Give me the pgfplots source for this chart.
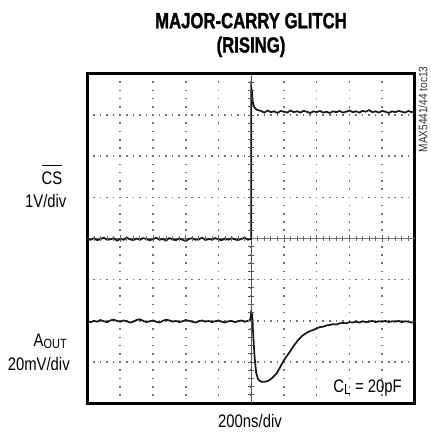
\documentclass[border=0pt]{standalone}
\usepackage{pgfplots}
\pgfplotsset{compat=1.18}
\usepackage{fontspec}
\setmainfont{Liberation Sans}[FakeStretch=0.82]
\newfontfamily\titlefont{Liberation Sans}[FakeStretch=0.76, FakeBold=1.3]
\newcommand{\ovl}[1]{\vbox{\hrule height 1pt\kern 4.4pt\hbox{#1}}}
\begin{document}
\begin{tikzpicture}
\path[use as bounding box] (0,0) rectangle (322.5pt,324pt);
\begin{axis}[
  at={(65.6pt,21.6pt)}, anchor=south west,
  scale only axis, width=245.6pt, height=247pt,
  xmin=0, xmax=10, ymin=0, ymax=8,
  xtick={0,1,...,10}, ytick={0,1,...,8},
  xticklabels={}, yticklabels={},
  major tick length=0pt,
  grid=major,
  major x grid style={black!55, line width=1.2pt, dash pattern=on 1.2pt off 4.975pt, dash phase=0.6pt},
  major y grid style={black!55, line width=1.2pt, dash pattern=on 1.2pt off 3.712pt, dash phase=0.6pt},
  axis line style={line width=2.3pt, black},
  clip=true,
]
% center cross lines
\addplot[black!55, line width=0.5pt] coordinates {(0,4) (10,4)};
\addplot[black!65, line width=0.6pt] coordinates {(5,0) (5,8)};
% minor ticks on center horizontal line
\addplot[only marks, mark=|, mark size=1.6pt, black!60, mark options={line width=0.6pt}] coordinates {
(0.2,4) (0.4,4) (0.6,4) (0.8,4) (1.2,4) (1.4,4) (1.6,4) (1.8,4)
(2.2,4) (2.4,4) (2.6,4) (2.8,4) (3.2,4) (3.4,4) (3.6,4) (3.8,4)
(4.2,4) (4.4,4) (4.6,4) (4.8,4) (5.2,4) (5.4,4) (5.6,4) (5.8,4)
(6.2,4) (6.4,4) (6.6,4) (6.8,4) (7.2,4) (7.4,4) (7.6,4) (7.8,4)
(8.2,4) (8.4,4) (8.6,4) (8.8,4) (9.2,4) (9.4,4) (9.6,4) (9.8,4)};
\addplot[only marks, mark=|, mark size=2.4pt, black!60, mark options={line width=0.6pt}] coordinates {
(1,4) (2,4) (3,4) (4,4) (6,4) (7,4) (8,4) (9,4)};
% minor ticks on center vertical line
\addplot[only marks, mark=-, mark size=2.2pt, black!65, mark options={line width=0.7pt}] coordinates {
(5,0.2) (5,0.4) (5,0.6) (5,0.8) (5,1.2) (5,1.4) (5,1.6) (5,1.8)
(5,2.2) (5,2.4) (5,2.6) (5,2.8) (5,3.2) (5,3.4) (5,3.6) (5,3.8)
(5,4.2) (5,4.4) (5,4.6) (5,4.8) (5,5.2) (5,5.4) (5,5.6) (5,5.8)
(5,6.2) (5,6.4) (5,6.6) (5,6.8) (5,7.2) (5,7.4) (5,7.6) (5,7.8)
(5,1) (5,2) (5,3) (5,5) (5,6) (5,7)};
% CS trace
\addplot[black!90, line width=1.3pt] coordinates {
(0.0,3.99) (0.1,3.97) (0.2,4.01) (0.3,3.96) (0.4,3.99) (0.5,4.02) (0.6,3.97) (0.7,3.98) (0.8,4.01) (0.9,3.95)
(1.0,3.99) (1.1,3.97) (1.2,4.02) (1.3,3.98) (1.4,3.96) (1.5,4.00) (1.6,3.97) (1.7,4.01) (1.8,3.99) (1.9,3.96)
(2.0,3.98) (2.1,4.02) (2.2,3.97) (2.3,3.99) (2.4,3.95) (2.5,4.01) (2.6,3.98) (2.7,3.96) (2.8,4.00) (2.9,3.97)
(3.0,3.94) (3.1,3.99) (3.2,4.01) (3.3,3.97) (3.4,3.98) (3.5,4.02) (3.6,3.96) (3.7,3.99) (3.8,3.97) (3.9,4.01)
(4.0,3.98) (4.1,3.96) (4.2,4.00) (4.3,3.97) (4.4,4.01) (4.5,3.98) (4.6,3.96) (4.7,3.99) (4.8,4.02) (4.9,3.97)
(4.98,3.99) (5.0,3.99) (5.0,7.66) (5.02,7.6) (5.04,7.35) (5.07,7.25) (5.1,7.18) (5.15,7.14) (5.2,7.12)
(5.3,7.10) (5.4,7.06) (5.5,7.11) (5.6,7.07) (5.7,7.09) (5.8,7.05) (5.9,7.10) (6.0,7.08) (6.1,7.06) (6.2,7.11)
(6.3,7.07) (6.4,7.09) (6.5,7.06) (6.6,7.10) (6.7,7.08) (6.8,7.05) (6.9,7.09) (7.0,7.07) (7.1,7.10) (7.2,7.06)
(7.3,7.08) (7.4,7.05) (7.5,7.09) (7.6,7.07) (7.7,7.10) (7.8,7.06) (7.9,7.08) (8.0,7.11) (8.1,7.07) (8.2,7.09)
(8.3,7.06) (8.4,7.10) (8.5,7.08) (8.6,7.12) (8.7,7.07) (8.8,7.09) (8.9,7.06) (9.0,7.10) (9.1,7.08) (9.2,7.05)
(9.3,7.09) (9.4,7.07) (9.5,7.10) (9.6,7.08) (9.7,7.06) (9.8,7.10) (9.9,7.07) (10.0,7.09)};
% AOUT trace
\addplot[black!90, line width=1.3pt] coordinates {
(0.0,1.99) (0.1,1.97) (0.2,2.00) (0.3,1.98) (0.4,2.02) (0.5,1.99) (0.6,1.97) (0.7,2.01) (0.8,2.03) (0.9,2.00)
(1.0,1.98) (1.1,2.01) (1.2,1.99) (1.3,1.96) (1.4,1.98) (1.5,2.02) (1.6,2.04) (1.7,2.00) (1.8,1.97) (1.9,1.99)
(2.0,2.01) (2.1,1.98) (2.2,1.96) (2.3,2.00) (2.4,2.03) (2.5,2.01) (2.6,1.98) (2.7,2.00) (2.8,1.97) (2.9,1.99)
(3.0,2.02) (3.1,2.00) (3.2,1.98) (3.3,1.96) (3.4,1.99) (3.5,2.01) (3.6,1.98) (3.7,2.00) (3.8,1.97) (3.9,1.99)
(4.0,2.01) (4.1,1.98) (4.2,1.96) (4.3,1.99) (4.4,2.00) (4.5,1.97) (4.6,1.99) (4.7,2.01) (4.8,1.98) (4.9,2.00)
(4.97,2.02) (5.0,2.2) (5.03,2.15) (5.06,1.7) (5.1,1.15) (5.15,0.75) (5.2,0.6) (5.26,0.54) (5.32,0.52) (5.4,0.52)
(5.48,0.53) (5.55,0.56) (5.62,0.6) (5.7,0.66) (5.78,0.73) (5.86,0.84) (5.94,0.96) (6.02,1.07) (6.1,1.16) (6.18,1.25)
(6.26,1.35) (6.34,1.44) (6.42,1.52) (6.5,1.59) (6.58,1.65) (6.66,1.69) (6.74,1.73) (6.82,1.76) (6.9,1.78) (7.0,1.82)
(7.1,1.85) (7.2,1.86) (7.3,1.89) (7.4,1.90) (7.5,1.92) (7.6,1.91) (7.7,1.94) (7.8,1.95) (7.9,1.94) (8.0,1.97)
(8.1,1.96) (8.2,1.98) (8.3,1.96) (8.4,1.99) (8.5,1.97) (8.6,1.98) (8.7,2.00) (8.8,1.97) (8.9,1.99) (9.0,1.98)
(9.1,2.00) (9.2,1.97) (9.3,1.99) (9.4,1.98) (9.5,2.00) (9.6,1.97) (9.7,1.99) (9.8,1.98) (9.9,1.96) (10.0,1.98)};
\end{axis}
% title
\node[anchor=base, inner sep=0pt, font=\fontsize{16.5}{19}\titlefont\bfseries] at (188.25pt,302.8pt) {MAJOR-CARRY GLITCH};
\node[anchor=base, inner sep=0pt, font=\fontsize{16.5}{19}\titlefont\bfseries] at (188.25pt,284.6pt) {(RISING)};
% left labels
\node[anchor=base east, inner sep=0pt, font=\fontsize{13.6}{16}\selectfont] at (46.9pt,185.6pt) {\ovl{CS}};
\node[anchor=base east, inner sep=0pt, font=\fontsize{13.6}{16}\selectfont] at (50pt,168.4pt) {1V/div};
\node[anchor=base east, inner sep=0pt, font=\fontsize{13.6}{16}\selectfont] at (50.25pt,63.75pt) {A\raisebox{-0.8pt}{\fontsize{10}{12}\selectfont OUT}};
\node[anchor=base east, inner sep=0pt, font=\fontsize{13.6}{16}\selectfont] at (52.5pt,46.1pt) {20mV/div};
% inside label
\node[anchor=base east, inner sep=0pt, font=\fontsize{13.6}{16}\selectfont] at (301.5pt,29.25pt) {C\raisebox{-1.5pt}{\fontsize{11}{13}\selectfont L} = 20pF};
% x label
\node[anchor=base, inner sep=0pt, font=\fontsize{13.6}{16}\selectfont] at (187.5pt,3pt) {200ns/div};
% side note
\node[rotate=90, anchor=center, inner sep=0pt, text=black!80, font=\fontsize{9.2}{11}\selectfont] at (317.25pt,241.9pt) {MAX5441/44 toc13};
\end{tikzpicture}
\end{document}
